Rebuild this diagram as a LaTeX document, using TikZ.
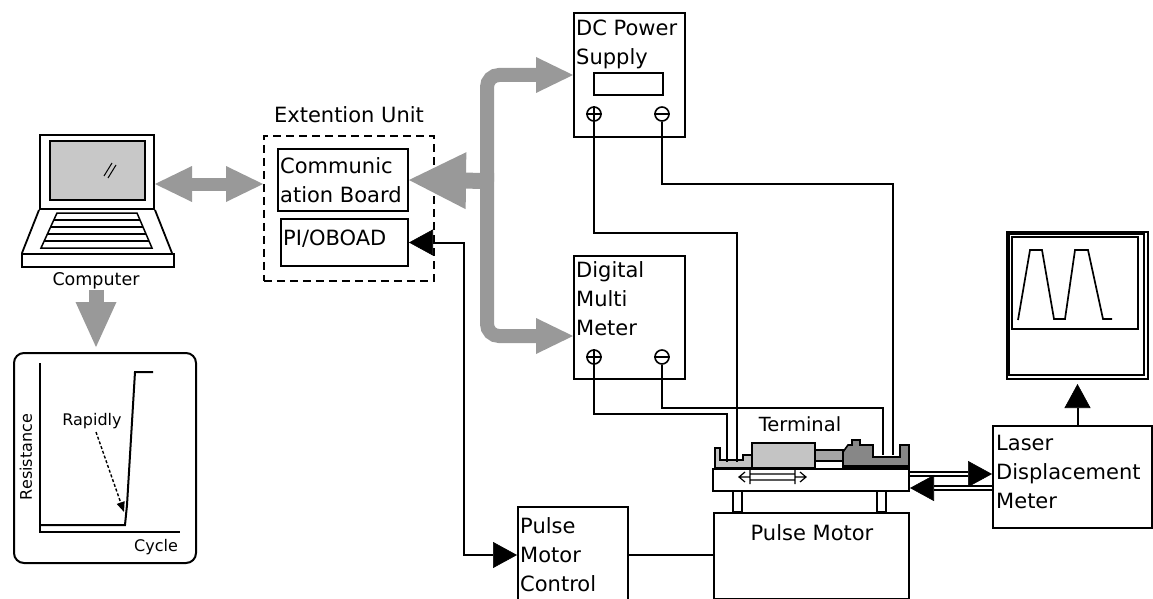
\documentclass[tikz,border=0pt]{standalone}
\usepackage{fontspec}
\newfontfamily\dvs{DejaVu Sans}
\usetikzlibrary{arrows.meta}
\definecolor{busgray}{RGB}{153,153,153}
\definecolor{screengray}{RGB}{200,200,200}
\definecolor{partlight}{RGB}{196,196,196}
\definecolor{partmid}{RGB}{165,165,165}
\definecolor{partdark}{RGB}{135,135,135}
\newcommand\boxfont{\dvs\fontsize{21}{29}\selectfont}
\newcommand\midfont{\dvs\fontsize{19.5}{24}\selectfont}
\newcommand\smfont{\dvs\fontsize{17.5}{21}\selectfont}
\newcommand\axfont{\dvs\fontsize{16}{19}\selectfont}

\tikzset{
  unitbox/.style={draw, line width=2pt, fill=white, inner sep=0pt, anchor=north west},
  boxtext/.style={font=\boxfont, align=left, inner sep=0pt, anchor=north west},
  wire/.style={line width=2pt},
  bhead/.tip={Triangle[length=24pt,width=26pt,line width=0.6pt]},
  ghead/.tip={Triangle[length=37pt,width=36pt,line width=0pt]},
  bus/.style={color=busgray, line width=14pt},
  jack/.style={circle, draw, line width=1.6pt, fill=white, minimum size=14pt, inner sep=0pt},
}

\begin{document}
\begin{tikzpicture}[x=1pt,y=-1pt]
\useasboundingbox (0,0) rectangle (1153,599);

% ---------------- laptop ----------------
\node[unitbox, minimum width=114pt, minimum height=74pt] (screen) at (39,134) {};
\draw[line width=2pt, fill=screengray] (50,141) rectangle (145,200);
\draw[line width=1pt] (104,176) -- (112,163) (108,178) -- (116,165);
\draw[line width=1.8pt] (screen.south west) -- (22,253) (screen.south east) -- (172,253);
\node[unitbox, minimum width=152pt, minimum height=13pt] (kbbase) at (21,253) {};
\draw[line width=1.5pt] (57,213) -- (137,213) -- (152,248) -- (41,248) -- cycle;
\draw[line width=1.5pt] (53.8,220) -- (140,220) (50.6,227) -- (143,227)
  (47.4,234) -- (146,234) (44.2,241) -- (149,241);
\node[font=\smfont, inner sep=0pt] (complabel) at (96,281) {Computer};

% ---------------- resistance graph ----------------
\node[draw, line width=2pt, rounded corners=10pt, minimum width=182pt,
      minimum height=210pt, anchor=north west] (graph) at (13,352) {};
\draw[line width=2pt] (40,363) -- (40,532) -- (180,532);
\draw[line width=2pt] (40,525) -- (125,525) -- (127,505) -- (135,372) -- (153,372);
\node[font=\axfont, inner sep=1pt] (rapid) at (92,421) {Rapidly};
\coordinate (knee) at (124,512);
\draw[line width=1.4pt, dash pattern=on 3pt off 2pt,
      -{Triangle[length=10pt,width=8pt]}] (96,432) -- (knee);
\node[font=\axfont, rotate=90, inner sep=0pt] (resist) at (26,457) {Resistance};
\node[font=\axfont, inner sep=0pt] (cycle) at (156,547) {Cycle};

\draw[bus, line width=15pt, -{Triangle[length=45pt,width=41pt,line width=0pt]},
      shorten >=5pt] (complabel.south) -- (complabel.south |- graph.north);

% ---------------- extension unit ----------------
\node[draw, line width=1.8pt, dash pattern=on 8pt off 5pt, minimum width=170pt,
      minimum height=145pt, anchor=north west] (ext) at (263,135) {};
\node[font=\boxfont, inner sep=0pt, anchor=base] (extlbl) at (349,123) {Extention Unit};
\node[unitbox, minimum width=130pt, minimum height=62pt] (comm) at (277,148) {};
\node[boxtext] (commtxt) at (280,157.5) {Communic\\ation Board};
\node[unitbox, minimum width=127pt, minimum height=47pt] (pio) at (280,218) {};
\node[boxtext, anchor=base west] (piotxt) at (283,245) {PI/OBOAD};

\draw[bus, line width=13pt, {ghead}-{ghead}]
  ([yshift=-12pt]screen.east) -- ([yshift=-12pt]screen.east -| ext.west);

% ---------------- DC power supply ----------------
\node[unitbox, minimum width=111pt, minimum height=124pt] (dc) at (573,12) {};
\node[boxtext] (dctxt) at (576,19.5) {DC Power\\Supply};
\draw[line width=2pt] (594,73) rectangle (663,95);
\node[jack] (dcp) at (594,114) {};
\node[jack] (dcm) at (662,114) {};
\draw[line width=1.4pt] (dcp.north) -- (dcp.south) (dcp.west) -- (dcp.east) (dcm.west) -- (dcm.east);

% ---------------- digital multi meter ----------------
\node[unitbox, minimum width=111pt, minimum height=123pt] (dmm) at (573,255) {};
\node[boxtext] (dmmtxt) at (576,261) {Digital\\Multi\\Meter};
\node[jack] (dmp) at (594,357) {};
\node[jack] (dmn) at (662,357) {};
\draw[line width=1.4pt] (dmp.north) -- (dmp.south) (dmp.west) -- (dmp.east) (dmn.west) -- (dmn.east);

% ---------------- gray bus ----------------
\coordinate (busj) at (487,181);
\draw[bus, rounded corners=12pt, -{ghead}] (busj) |- (dc.west);
\draw[bus, rounded corners=12pt, -{ghead}] (busj) |- ([yshift=-18.5pt]dmm.west);
\draw[bus, line width=16pt, -{Triangle[length=57pt,width=57pt,line width=0pt]}]
  ([xshift=7pt]busj) -- (comm.east);

% ---------------- test stage ----------------
\draw[line width=1.6pt] (733,490) rectangle (742,512) (877,490) rectangle (886,512);
\node[unitbox, minimum width=196pt, minimum height=22pt] (plate) at (712,468) {};
\node[unitbox, minimum width=195pt, minimum height=86pt] (pm) at (713,512) {};
\node[font=\boxfont, inner sep=0pt, anchor=base] (pmtxt) at (812,540) {Pulse Motor};

% slider mark on the plate
\draw[line width=1.2pt] (750,474) -- (795,474) (750,480) -- (795,480)
  (750,470) -- (750,484) (795,470) -- (795,484)
  (739,477) -- (750,477) (795,477) -- (806,477)
  (745,472) -- (739,477) -- (745,482) (800,472) -- (806,477) -- (800,482);

% specimen tray
\draw[line width=1.6pt, fill=partlight] (715,448) -- (720,448) -- (720,460) -- (743,460)
  -- (743,455) -- (752,455) -- (752,468) -- (715,468) -- cycle;
\draw[line width=1.6pt, fill=partlight] (752,443) rectangle (815,468);
\draw[line width=1.6pt, fill=partmid] (815,450) rectangle (843,461);
\draw[line width=1.6pt, fill=partdark] (843,468) -- (843,452) -- (848,445) -- (852,445)
  -- (852,440) -- (860,440) -- (860,445) -- (873,445) -- (873,457) -- (900,457)
  -- (900,445) -- (909,445) -- (909,468) -- cycle;
\draw[line width=3pt] (843,466) -- (909,466);
\node[font=\midfont, inner sep=0pt] (termlbl) at (800,424) {Terminal};

\coordinate (tl1) at (727,462);
\coordinate (tl2) at (737,462);
\coordinate (tr1) at (883,455);
\coordinate (tr2) at (893,455);

% ---------------- wiring ----------------
\draw[wire] (dcm.south) -- ++(0,62) -| (tr2);
\draw[wire] (dcp.south) -- ++(0,111) -| (tl2);
\draw[wire] (dmn.south) -- ++(0,43) -| (tr1);
\draw[wire] (dmp.south) -- ++(0,49) -| (tl1);

% ---------------- pulse motor control ----------------
\node[unitbox, minimum width=110pt, minimum height=96pt] (pmc) at (517,506) {};
\node[boxtext] (pmctxt) at (520,517) {Pulse\\Motor\\Control};
\draw[wire, {bhead}-{bhead}] (pio.east) -- ++(55,0) |- (pmc.west);
\draw[wire] (pmc.east) -- (pmc.east -| pm.west);

% ---------------- laser displacement meter ----------------
\node[unitbox, minimum width=159pt, minimum height=102pt] (laser) at (992,425) {};
\node[boxtext] (lasertxt) at (996,434.5) {Laser\\Displacement\\Meter};
\draw[line width=1.7pt, double, double distance=2.5pt, -{bhead}]
  ([yshift=6pt]plate.east) -- ([yshift=6pt]plate.east -| laser.west);
\draw[line width=1.7pt, double, double distance=2.5pt, -{bhead}]
  ([yshift=-8pt]plate.east -| laser.west) -- ([yshift=-8pt]plate.east);

% ---------------- oscilloscope ----------------
\node[unitbox, minimum width=141pt, minimum height=147pt] (osc) at (1006,231) {};
\draw[line width=1.5pt] (1009,234) rectangle (1144,375);
\draw[line width=2pt] (1012,237) rectangle (1138,329);
\draw[line width=1.7pt] (1018,320) -- (1030,250) -- (1042,250) -- (1054,319) -- (1065,319)
  -- (1075,250) -- (1088,250) -- (1103,319) -- (1112,319);
\draw[wire, -{bhead}, shorten >=4pt] (osc.south |- laser.north) -- (osc.south);

\end{tikzpicture}
\end{document}
